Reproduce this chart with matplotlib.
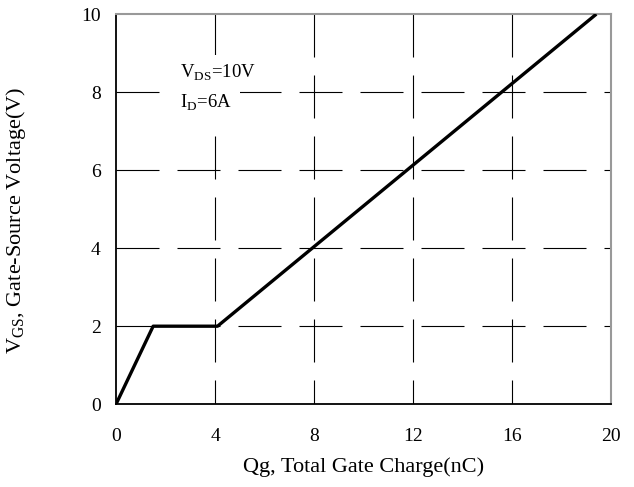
import matplotlib
matplotlib.use("Agg")
import matplotlib.pyplot as plt

plt.rcParams['font.family'] = ['Liberation Serif', 'DejaVu Serif']
plt.rcParams['mathtext.fontset'] = 'custom'
plt.rcParams['mathtext.rm'] = 'Liberation Serif'

# Gate charge curve (Qg in nC, Vgs in V)
qg = [0, 1.5, 4.1, 19.4]
vgs = [0, 2, 2, 10]

xticks = [0, 4, 8, 12, 16, 20]
yticks = [0, 2, 4, 6, 8, 10]

fig = plt.figure(figsize=(6.34, 4.87), dpi=100)
ax = fig.add_axes([0.183, 0.170, 0.781, 0.801])

ax.set_xlim(0, 20)
ax.set_ylim(0, 10)

# dashed grid, horizontal lines start at the left, vertical ones at the top
dash = (0, (38.7, 16.2))
for y in yticks[1:-1]:
    ax.plot([0, 20], [y, y], color='black', lw=0.8, ls=dash, zorder=1)
for x in xticks[1:-1]:
    ax.plot([x, x], [10, 0], color='black', lw=0.8, ls=dash, zorder=1)

ax.plot(qg, vgs, color='black', linewidth=2.4, solid_capstyle='butt', zorder=4)

ax.set_xticks(xticks)
ax.set_yticks(yticks)
ax.tick_params(axis='x', length=0, labelsize=14, pad=17)
ax.tick_params(axis='y', length=0, labelsize=14, pad=11)

for s in ['left', 'bottom']:
    ax.spines[s].set_color('black')
    ax.spines[s].set_linewidth(1.3)
for s in ['top', 'right']:
    ax.spines[s].set_color('#999999')
    ax.spines[s].set_linewidth(1.5)

ax.set_xlabel('Qg, Total Gate Charge(nC)', fontsize=16)
ax.xaxis.set_label_coords(0.5, -0.135)
ax.set_ylabel(r'V$_{\mathrm{GS}}$, Gate-Source Voltage(V)', fontsize=16)
ax.yaxis.set_label_coords(-0.177, 0.47)

box = dict(facecolor='white', edgecolor='none', pad=6)
ax.text(2.59, 8.49, r'V$_{\mathrm{DS}}$=10V', fontsize=13.5, va='center', bbox=box, zorder=3)
ax.text(2.59, 7.72, r'I$_{\mathrm{D}}$=6A', fontsize=13.5, va='center', bbox=box, zorder=3)

plt.savefig('out.png', dpi=100)
